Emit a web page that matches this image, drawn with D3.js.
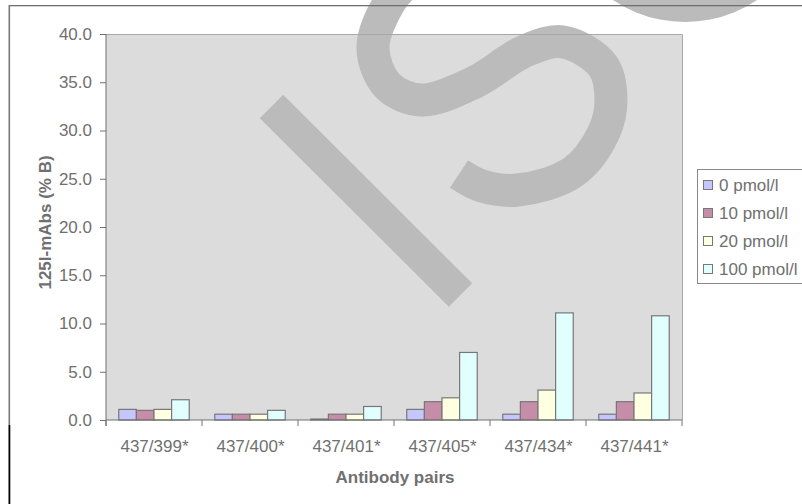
<!DOCTYPE html>
<html>
<head>
<meta charset="utf-8">
<script src="https://cdn.jsdelivr.net/npm/d3@7/dist/d3.min.js"></script>
<style>
  html, body { margin: 0; padding: 0; background: #ffffff; }
  svg { display: block; }
  text { font-family: "Liberation Sans", Arial, sans-serif; }
</style>
</head>
<body>
<div id="chart"></div>
<script>
// ---- data ----
const categories = ["437/399*", "437/400*", "437/401*", "437/405*", "437/434*", "437/441*"];
const seriesNames = ["0 pmol/l", "10 pmol/l", "20 pmol/l", "100 pmol/l"];
const values0 = [1.1, 0.6, 0.1, 1.1, 0.6, 0.6];
const values10 = [1.0, 0.6, 0.6, 1.9, 1.9, 1.9];
const values20 = [1.1, 0.6, 0.6, 2.3, 3.1, 2.8];
const values100 = [2.1, 1.0, 1.4, 7.0, 11.1, 10.8];
const yTickValues = [0, 5, 10, 15, 20, 25, 30, 35, 40];
const seriesColors = ["#C6C6FF", "#C68DA9", "#FFFFE2", "#E2FFFF"];
const yTitle = "125I-mAbs (% B)";
const xTitle = "Antibody pairs";

const seriesValues = [values0, values10, values20, values100];

const W = 802, H = 504;
const plot = { left: 106, right: 682, top: 34, bottom: 420 };
const FS = 17;

const svg = d3.select("#chart").append("svg")
  .attr("width", W).attr("height", H);

const x = d3.scaleBand().domain(categories).range([plot.left, plot.right]).padding(0);
const bw = x.bandwidth();
const gap = bw * 0.133;
const x1 = d3.scaleBand().domain(seriesNames).range([gap, bw - gap]).padding(0);
const y = d3.scaleLinear().domain([0, 40]).range([plot.bottom, plot.top]);

// plot background
svg.append("rect")
  .attr("x", plot.left).attr("y", plot.top)
  .attr("width", plot.right - plot.left).attr("height", plot.bottom - plot.top)
  .attr("fill", "#DCDCDC");

// watermark decoration
const wm = svg.append("g").attr("fill", "none").attr("stroke", "#BBBBBB");
wm.append("circle").attr("cx", 685).attr("cy", -107).attr("r", 129)
  .attr("fill", "#BBBBBB").attr("stroke", "none");
wm.append("line").attr("x1", 271.5).attr("y1", 106.5).attr("x2", 460.5).attr("y2", 295)
  .attr("stroke-width", 33);
const sPts = [[412,-22],[391,0],[373,48],[388,86],[422,100],[475,82],[525,51],[563,42],[603,66],[611,100],[604,132],[573,172],[518,190],[482,186],[459,174]];
wm.append("path").attr("d", d3.line().curve(d3.curveCatmullRom)(sPts))
  .attr("stroke-width", 33);

// frame lines
svg.append("rect").attr("x", 9).attr("y", 5).attr("width", W - 9).attr("height", 1.3)
  .attr("fill", "#707070");
svg.append("rect").attr("x", 8.5).attr("y", 5).attr("width", 1.6).attr("height", 420)
  .attr("fill", "#7a7a7a");
svg.append("rect").attr("x", 8.5).attr("y", 425).attr("width", 1.8).attr("height", H - 425)
  .attr("fill", "#000000");

// plot border (top/right)
svg.append("path")
  .attr("d", `M${plot.left},${plot.top + 0.5}H${plot.right + 0.5}V${plot.bottom}`)
  .attr("fill", "none").attr("stroke", "#A8A8A8").attr("stroke-width", 1);

// bars
const groups = svg.append("g").selectAll("g")
  .data(categories).join("g")
  .attr("transform", d => `translate(${x(d)},0)`);
groups.selectAll("rect")
  .data((c, i) => seriesNames.map((s, k) => ({ s, k, v: seriesValues[k][i] })))
  .join("rect")
  .attr("x", d => x1(d.s))
  .attr("width", x1.bandwidth())
  .attr("y", d => y(d.v))
  .attr("height", d => y(0) - y(d.v))
  .attr("fill", d => seriesColors[d.k])
  .attr("stroke", "#777777").attr("stroke-width", 1.2);

// y axis
const yAxis = d3.axisLeft(y).tickValues(yTickValues).tickFormat(d3.format(".1f"))
  .tickSize(6).tickPadding(8);
const gy = svg.append("g").attr("transform", `translate(${plot.left},0)`).call(yAxis);
gy.select(".domain").attr("stroke", "#707070").attr("d", `M0,${plot.top}V${plot.bottom + 6}`);
gy.selectAll(".tick line").attr("stroke", "#707070");
gy.selectAll(".tick text").attr("fill", "#707070").attr("font-size", FS)
  .attr("font-family", "Liberation Sans, Arial, sans-serif");

// x axis line + boundary ticks
const gx = svg.append("g");
gx.append("line").attr("x1", plot.left).attr("x2", plot.right)
  .attr("y1", plot.bottom).attr("y2", plot.bottom).attr("stroke", "#707070");
const bounds = categories.map(c => x(c)).concat([x(categories[categories.length - 1]) + bw]);
gx.selectAll("line.tick").data(bounds).join("line").attr("class", "tick")
  .attr("x1", d => d).attr("x2", d => d)
  .attr("y1", plot.bottom).attr("y2", plot.bottom + 6)
  .attr("stroke", "#707070");
gx.selectAll("text").data(categories).join("text")
  .attr("x", d => x(d) + bw / 2 + 0.5)
  .attr("y", plot.bottom + 31.5)
  .attr("text-anchor", "middle")
  .attr("font-size", FS)
  .attr("fill", "#707070")
  .text(d => d);

// axis titles
svg.append("text")
  .attr("transform", `translate(51,222.5) rotate(-90)`)
  .attr("text-anchor", "middle")
  .attr("font-size", FS).attr("font-weight", "bold")
  .attr("fill", "#707070")
  .text(yTitle);
svg.append("text")
  .attr("x", 395)
  .attr("y", 482.5)
  .attr("text-anchor", "middle")
  .attr("font-size", FS).attr("font-weight", "bold")
  .attr("fill", "#707070")
  .text(xTitle);

// legend
const lg = svg.append("g");
lg.append("rect").attr("x", 697.5).attr("y", 169.5).attr("width", 130).attr("height", 114)
  .attr("fill", "#ffffff").attr("stroke", "#888888");
const items = lg.selectAll("g").data(seriesNames).join("g")
  .attr("transform", (d, i) => `translate(0,${185 + i * 28})`);
items.append("rect").attr("x", 703.5).attr("y", -4.5).attr("width", 9).attr("height", 9)
  .attr("fill", (d, i) => seriesColors[i]).attr("stroke", "#777777");
items.append("text").attr("x", 719).attr("y", 0).attr("dy", "0.35em")
  .attr("font-size", FS).attr("fill", "#707070")
  .text(d => d);
</script>
</body>
</html>
